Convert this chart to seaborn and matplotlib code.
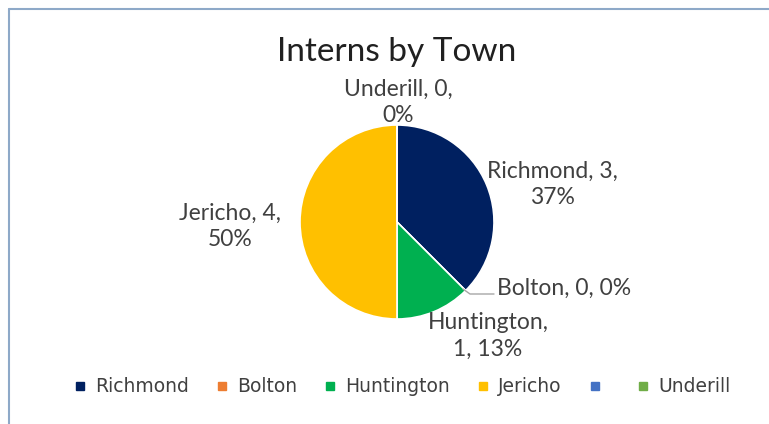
import matplotlib
matplotlib.use('Agg')
import matplotlib.pyplot as plt
import seaborn as sns
from matplotlib.lines import Line2D

# data
towns = ['Richmond', 'Bolton', 'Huntington', 'Jericho', '', 'Underill']
interns = [3, 0, 1, 4, 0, 0]
percents = [37, 0, 13, 50, 0, 0]
colors = ['#002060', '#ED7D31', '#00B050', '#FFC000', '#4472C4', '#70AD47']

sns.set_theme(style='white')
plt.rcParams['font.family'] = ['Lato', 'DejaVu Sans']

W, H = 769, 424
fig = plt.figure(figsize=(W / 100, H / 100), dpi=100)
fig.patch.set_facecolor('white')
ax = fig.add_axes([0, 0, 1, 1])

# pie drawn in pixel-like data coords (y axis flipped, so clockwise visually needs counterclock=True)
wedges, _ = ax.pie(interns, colors=colors, startangle=-90, counterclock=True,
                   center=(397, 222), radius=97, frame=True,
                   wedgeprops=dict(edgecolor='white', linewidth=1.2))
ax.set_xlim(0, W)
ax.set_ylim(H, 0)
ax.set_aspect('equal')
ax.axis('off')

txt = '#404040'
ax.text(397, 52, 'Interns by Town', ha='center', va='center', fontsize=24, color='#202020')

label_fmt = {
    'Richmond': ((552, 184), '{n}, {v},\n{p}%'),
    'Huntington': ((488, 336), '{n},\n{v}, {p}%'),
    'Jericho': ((230, 226), '{n}, {v},\n{p}%'),
    'Underill': ((398, 102), '{n}, {v},\n{p}%'),
}
for name, v, p in zip(towns, interns, percents):
    if name in label_fmt:
        (x, y), fmt = label_fmt[name]
        ax.text(x, y, fmt.format(n=name, v=v, p=p), ha='center', va='center',
                fontsize=16.5, color=txt, linespacing=1.3)

# Bolton label with leader line
ax.plot([463, 470, 494], [289, 294, 294], color='#a6a6a6', lw=1)
ax.text(497, 288, f'{towns[1]}, {interns[1]}, {percents[1]}%', ha='left', va='center',
        fontsize=16.5, color=txt)

handles = [Line2D([], [], marker='s', linestyle='', markersize=6, color=c) for c in colors]
leg = ax.legend(handles, towns, loc='center', bbox_to_anchor=(0.5 + 18 / W, 1 - 387 / H),
                ncol=6, frameon=False, handlelength=0.6, handletextpad=0.5,
                columnspacing=1.47, prop={'family': 'DejaVu Sans', 'size': 13.5})
for t in leg.get_texts():
    t.set_color(txt)

# chart frame (cropped at right/bottom)
off = 9
fig.add_artist(Line2D([off / W, off / W], [0, 1 - off / H], transform=fig.transFigure, color='#8ea9c8', lw=1.5))
fig.add_artist(Line2D([off / W, 1], [1 - off / H, 1 - off / H], transform=fig.transFigure, color='#8ea9c8', lw=1.5))

fig.savefig('out.png', dpi=100)
